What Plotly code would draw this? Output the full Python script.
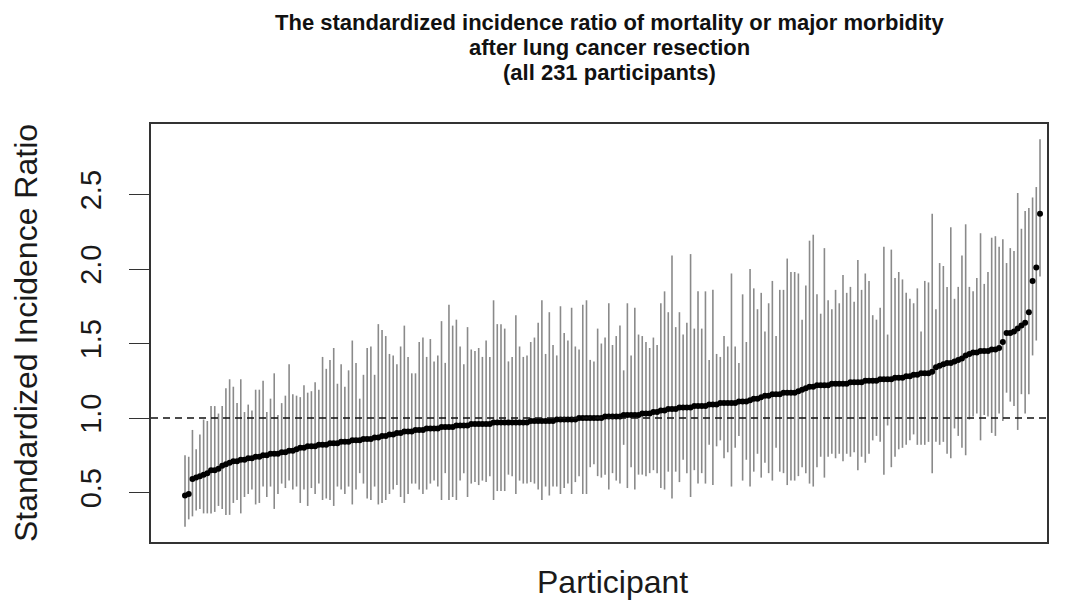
import plotly.graph_objects as go

# ---- data ----
participant = list(range(1, 232))

sir_estimate = [
    0.48, 0.49, 0.59, 0.60, 0.61, 0.62, 0.63, 0.65, 0.65, 0.66,
    0.68, 0.69, 0.70, 0.71, 0.71, 0.72, 0.72, 0.73, 0.73, 0.74,
    0.74, 0.75, 0.75, 0.76, 0.76, 0.76, 0.77, 0.77, 0.78, 0.78,
    0.79, 0.80, 0.80, 0.81, 0.81, 0.81, 0.82, 0.82, 0.82, 0.83,
    0.83, 0.83, 0.84, 0.84, 0.84, 0.85, 0.85, 0.85, 0.86, 0.86,
    0.86, 0.87, 0.87, 0.88, 0.88, 0.89, 0.89, 0.90, 0.90, 0.91,
    0.91, 0.91, 0.92, 0.92, 0.92, 0.93, 0.93, 0.93, 0.93, 0.94,
    0.94, 0.94, 0.94, 0.95, 0.95, 0.95, 0.95, 0.96, 0.96, 0.96,
    0.96, 0.96, 0.96, 0.97, 0.97, 0.97, 0.97, 0.97, 0.97, 0.97,
    0.97, 0.97, 0.97, 0.98, 0.98, 0.98, 0.98, 0.98, 0.98, 0.98,
    0.99, 0.99, 0.99, 0.99, 0.99, 0.99, 1.00, 1.00, 1.00, 1.00,
    1.00, 1.00, 1.00, 1.01, 1.01, 1.01, 1.01, 1.01, 1.02, 1.02,
    1.02, 1.02, 1.02, 1.03, 1.03, 1.03, 1.04, 1.04, 1.05, 1.05,
    1.06, 1.06, 1.06, 1.07, 1.07, 1.07, 1.07, 1.08, 1.08, 1.08,
    1.08, 1.09, 1.09, 1.09, 1.10, 1.10, 1.10, 1.10, 1.10, 1.11,
    1.11, 1.11, 1.12, 1.13, 1.13, 1.14, 1.15, 1.15, 1.16, 1.16,
    1.16, 1.17, 1.17, 1.17, 1.17, 1.18, 1.19, 1.20, 1.21, 1.21,
    1.22, 1.22, 1.22, 1.22, 1.23, 1.23, 1.23, 1.23, 1.23, 1.24,
    1.24, 1.24, 1.24, 1.25, 1.25, 1.25, 1.25, 1.26, 1.26, 1.26,
    1.26, 1.27, 1.27, 1.27, 1.28, 1.28, 1.29, 1.29, 1.30, 1.30,
    1.30, 1.31, 1.34, 1.35, 1.36, 1.37, 1.37, 1.38, 1.39, 1.40,
    1.42, 1.43, 1.44, 1.44, 1.45, 1.45, 1.45, 1.46, 1.46, 1.47,
    1.51, 1.57, 1.57, 1.58, 1.60, 1.62, 1.64, 1.71, 1.92, 2.01,
    2.37,
]

ci_upper = [
    0.75, 0.74, 0.92, 0.79, 0.89, 0.99, 0.98, 1.08, 1.08, 1.03,
    1.08, 1.20, 1.26, 1.21, 1.10, 1.26, 1.04, 1.09, 1.05, 1.19,
    1.19, 1.25, 1.04, 1.13, 1.30, 1.02, 1.10, 1.15, 1.36, 1.16,
    1.15, 1.14, 1.22, 1.17, 1.18, 1.24, 1.19, 1.41, 1.33, 1.39,
    1.47, 1.23, 1.36, 1.21, 1.32, 1.52, 1.37, 1.13, 1.29, 1.47,
    1.48, 1.29, 1.63, 1.59, 1.55, 1.43, 1.42, 1.36, 1.48, 1.62,
    1.41, 1.30, 1.30, 1.51, 1.54, 1.41, 1.53, 1.38, 1.42, 1.65,
    1.37, 1.76, 1.62, 1.66, 1.48, 1.36, 1.61, 1.46, 1.45, 1.47,
    1.41, 1.52, 1.41, 1.79, 1.63, 1.63, 1.60, 1.38, 1.41, 1.69,
    1.48, 1.41, 1.42, 1.51, 1.54, 1.64, 1.79, 1.43, 1.71, 1.49,
    1.42, 1.75, 1.57, 1.52, 1.74, 1.48, 1.46, 1.76, 1.79, 1.39,
    1.38, 1.60, 1.50, 1.54, 1.77, 1.49, 1.55, 1.62, 1.32, 1.77,
    1.42, 1.74, 1.56, 1.55, 1.51, 1.47, 1.54, 1.49, 1.77, 1.85,
    1.71, 2.09, 1.61, 1.71, 1.56, 1.64, 2.10, 1.60, 1.85, 1.60,
    1.85, 1.39, 1.86, 1.43, 1.41, 1.55, 1.48, 1.97, 1.48, 1.37,
    1.83, 1.51, 2.00, 1.87, 1.73, 1.84, 1.58, 1.77, 1.92, 1.55,
    1.86, 1.86, 2.07, 1.98, 1.98, 1.97, 1.66, 1.89, 2.19, 2.23,
    1.83, 1.70, 2.14, 1.79, 1.73, 1.86, 1.77, 1.96, 1.84, 1.88,
    1.78, 2.06, 1.86, 1.97, 1.92, 1.69, 1.66, 1.74, 2.15, 1.56,
    2.13, 1.94, 1.98, 1.93, 1.84, 1.80, 1.77, 1.87, 1.58, 1.92,
    1.91, 2.37, 1.73, 2.04, 2.02, 1.88, 2.28, 1.80, 1.88, 2.09,
    2.30, 1.88, 1.85, 1.94, 2.24, 1.90, 1.98, 2.21, 2.22, 2.15,
    2.20, 2.04, 2.14, 2.12, 2.51, 2.27, 2.39, 2.41, 2.48, 2.55,
    2.87,
]

ci_lower = [
    0.27, 0.32, 0.34, 0.38, 0.39, 0.36, 0.36, 0.36, 0.37, 0.41,
    0.39, 0.35, 0.35, 0.43, 0.45, 0.36, 0.47, 0.49, 0.52, 0.42,
    0.43, 0.54, 0.47, 0.54, 0.39, 0.49, 0.56, 0.53, 0.58, 0.52,
    0.54, 0.43, 0.52, 0.41, 0.53, 0.49, 0.56, 0.45, 0.46, 0.45,
    0.41, 0.54, 0.52, 0.49, 0.54, 0.42, 0.52, 0.63, 0.56, 0.46,
    0.45, 0.54, 0.42, 0.43, 0.45, 0.49, 0.52, 0.55, 0.47, 0.43,
    0.49, 0.56, 0.56, 0.52, 0.49, 0.52, 0.56, 0.58, 0.54, 0.45,
    0.63, 0.45, 0.47, 0.45, 0.58, 0.63, 0.47, 0.56, 0.57, 0.55,
    0.58, 0.57, 0.61, 0.45, 0.51, 0.51, 0.51, 0.62, 0.61, 0.49,
    0.58, 0.56, 0.56, 0.57, 0.56, 0.52, 0.45, 0.54, 0.48, 0.54,
    0.54, 0.49, 0.53, 0.56, 0.49, 0.57, 0.61, 0.49, 0.49, 0.67,
    0.69, 0.61, 0.60, 0.62, 0.52, 0.63, 0.58, 0.56, 0.82, 0.53,
    0.67, 0.52, 0.62, 0.62, 0.61, 0.63, 0.65, 0.63, 0.53, 0.52,
    0.64, 0.46, 0.64, 0.57, 0.72, 0.63, 0.47, 0.65, 0.56, 0.63,
    0.56, 0.82, 0.55, 0.81, 0.85, 0.73, 0.77, 0.54, 0.80, 0.88,
    0.58, 0.72, 0.54, 0.64, 0.76, 0.60, 0.70, 0.63, 0.58, 0.80,
    0.64, 0.63, 0.55, 0.58, 0.58, 0.61, 0.67, 0.63, 0.56, 0.54,
    0.67, 0.74, 0.60, 0.74, 0.76, 0.73, 0.76, 0.71, 0.76, 0.74,
    0.77, 0.65, 0.74, 0.70, 0.76, 0.85, 0.88, 0.84, 0.62, 0.95,
    0.67, 0.74, 0.79, 0.80, 0.82, 0.85, 0.89, 0.82, 0.82, 0.82,
    0.84, 0.63, 0.84, 0.82, 0.84, 0.76, 0.73, 0.93, 0.88, 0.80,
    0.75, 0.99, 1.01, 1.03, 0.85, 1.02, 1.01, 0.90, 0.88, 1.03,
    0.98, 1.17, 1.11, 1.08, 0.92, 1.16, 1.03, 1.16, 1.42, 1.52,
    1.95,
]

y_tick_values = [0.5, 1.0, 1.5, 2.0, 2.5]
y_tick_labels = ["0.5", "1.0", "1.5", "2.0", "2.5"]
reference_ratio = 1.0

title_lines = [
    "The standardized incidence ratio of mortality or major morbidity",
    "after lung cancer resection",
    "(all 231 participants)",
]
x_title = "Participant"
y_title = "Standardized Incidence Ratio"

assert len(sir_estimate) == len(ci_upper) == len(ci_lower) == len(participant)

FONT = "Liberation Sans, Arial, Helvetica, sans-serif"

err_plus = [u - e for u, e in zip(ci_upper, sir_estimate)]
err_minus = [e - l for e, l in zip(sir_estimate, ci_lower)]

fig = go.Figure()
fig.add_trace(
    go.Scatter(
        x=participant,
        y=sir_estimate,
        mode="markers",
        marker=dict(color="black", size=6, line=dict(width=0)),
        error_y=dict(
            type="data",
            symmetric=False,
            array=err_plus,
            arrayminus=err_minus,
            width=0,
            thickness=1.6,
            color="#8a8a8a",
        ),
        showlegend=False,
        hoverinfo="skip",
    )
)

fig.add_hline(
    y=reference_ratio,
    line=dict(color="#111111", width=1.3, dash="7px,5px"),
    layer="above",
)

# title lines, placed one by one (paper coordinates relative to the plot box)
title_y = [1.2440, 1.1842, 1.1234]
for line, ty in zip(title_lines, title_y):
    fig.add_annotation(
        text=f"<b>{line}</b>",
        xref="paper", yref="paper",
        x=0.5114, y=ty,
        xanchor="center", yanchor="middle",
        showarrow=False,
        font=dict(family=FONT, size=22, color="#111111"),
    )

# x-axis title
fig.add_annotation(
    text=x_title,
    xref="paper", yref="paper",
    x=0.5156, y=-0.0957,
    xanchor="center", yanchor="middle",
    showarrow=False,
    font=dict(family=FONT, size=32, color="#1a1a1a"),
)

# the page body has an 8px margin, so the figure is 8px smaller than the window
fig.update_layout(
    width=1063,
    height=597,
    margin=dict(l=143, r=24, t=116, b=63),
    paper_bgcolor="white",
    plot_bgcolor="white",
    font=dict(family=FONT, color="#1a1a1a"),
    xaxis=dict(
        range=[-8.15, 232.88],
        showticklabels=False,
        ticks="",
        showgrid=False,
        zeroline=False,
        showline=True,
        mirror=True,
        linecolor="#333333",
        linewidth=1.5,
    ),
    yaxis=dict(
        range=[0.168, 2.973],
        tickmode="array",
        tickvals=y_tick_values,
        ticktext=y_tick_labels,
        ticks="outside",
        ticklen=20,
        tickwidth=1.3,
        tickcolor="#333333",
        tickangle=-90,
        tickfont=dict(family=FONT, size=29, color="#1a1a1a"),
        ticklabelstandoff=17,
        showgrid=False,
        zeroline=False,
        showline=True,
        mirror=True,
        linecolor="#333333",
        linewidth=1.5,
        title=dict(
            text=y_title,
            font=dict(family=FONT, size=32, color="#1a1a1a"),
            standoff=33,
        ),
    ),
)

fig.write_html("out.html")
